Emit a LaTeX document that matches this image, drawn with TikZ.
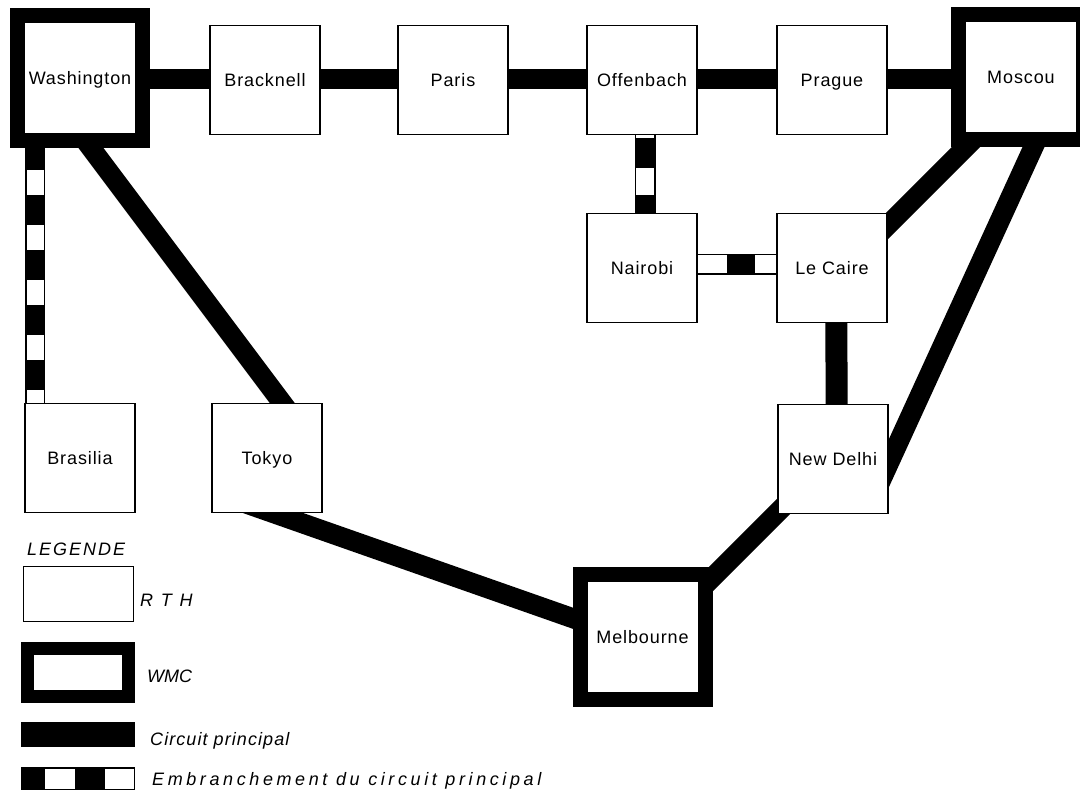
\documentclass[tikz,border=0pt]{standalone}
\usepackage{fontspec}
\setmainfont{Liberation Sans}
\newfontfamily\boxfont[LetterSpace=5]{Liberation Sans}
\newfontfamily\legfont{Liberation Sans}
\usetikzlibrary{calc,backgrounds}
\tikzset{
  rth/.style={draw, line width=1.5pt, fill=white, minimum width=110pt, minimum height=109pt, inner sep=0pt,
    text height=13pt, text depth=0pt, font=\boxfont\fontsize{18}{20}\selectfont},
  wmc/.style={draw, line width=15pt, fill=white, minimum width=125pt, minimum height=125pt, inner sep=0pt,
    text height=13pt, text depth=0pt, font=\boxfont\fontsize{18}{20}\selectfont},
  trunk/.style={line width=20pt},
  brout/.style={line width=#1},
  brin/.style={line width=#1, white},
  legtext/.style={anchor=base west, inner sep=0pt, font=\legfont\itshape\fontsize{18}{20}\selectfont\addfontfeature{LetterSpace=#1}}
}
\begin{document}
\begin{tikzpicture}[x=1pt,y=-1pt]
\clip (0,0) rectangle (1080,793);
% stations
\node[wmc] (wash) at (80,78) {Washington};
\node[rth] (brack) at (265,80) {Bracknell};
\node[rth] (paris) at (453,80) {Paris};
\node[rth] (offen) at (642,80) {Offenbach};
\node[rth] (prague) at (832,80) {Prague};
\node[wmc] (moscou) at (1021,77) {Moscou};
\node[rth] (nair) at (642,268) {Nairobi};
\node[rth] (caire) at (832,268) {Le Caire};
\node[rth] (bras) at (80,458) {Brasilia};
\node[rth] (tokyo) at (267,458) {Tokyo};
\node[rth] (delhi) at (833,459) {New Delhi};
\node[wmc] (melb) at (642.5,636.5) {Melbourne};
% connectors
\begin{pgfonlayer}{background}
\draw[trunk] ([yshift=1pt]wash.center |- brack.center) -- ([yshift=1pt]brack.center);
\draw[trunk] ([yshift=1pt]brack.center) -- ([yshift=1pt]paris.center);
\draw[trunk] ([yshift=1pt]paris.center) -- ([yshift=1pt]offen.center);
\draw[trunk] ([yshift=1pt]offen.center) -- ([yshift=1pt]prague.center);
\draw[trunk] ([yshift=1pt]prague.center) -- ([yshift=1pt]moscou.center |- prague.center);
\draw[trunk] ($(wash)+(-25,22)$) -- ($(tokyo)+(43,-18)$);
\draw[trunk] ($(tokyo)+(-27,43.4)$) -- ($(melb)+(-2.5,5.3)$);
\draw[trunk] ($(melb)+(17.5,-6.5)$) -- ($(delhi)+(-3,1)$);
\draw[trunk] ($(moscou)+(-8,23)$) -- ($(caire)+(18,-5)$);
\draw[trunk] ($(moscou)+(27.6,37)$) -- ($(delhi)+(40.4,38)$);
\draw[line width=22pt] ([xshift=4pt]caire.center) -- ([xshift=4pt]delhi.center);
% branches
\coordinate (wb1) at ($(wash.south west)+(25,0)$);
\coordinate (wb2) at (wb1 |- bras.north);
\draw[brout=20pt] (wb1) -- (wb2);
\draw[brin=17pt] (wb1) -- (wb2);
\draw[line width=20pt, dash pattern=on 30pt off 25pt, dash phase=8pt] (wb1) -- (wb2);
\coordinate (ob1) at ($(offen.south)+(3,0)$);
\coordinate (ob2) at (ob1 |- nair.north);
\draw[brout=21pt] (ob1) -- (ob2);
\draw[brin=18pt] (ob1) -- (ob2);
\draw[line width=21pt, dash pattern=on 30pt off 27pt, dash phase=54pt] (ob1) -- (ob2);
\coordinate (nc1) at ($(nair.east)+(0,-4)$);
\coordinate (nc2) at (nc1 -| caire.west);
\draw[brout=21pt] (nc1) -- (nc2);
\draw[brin=18pt] (nc1) -- (nc2);
\draw[line width=21pt, dash pattern=on 28pt off 100pt, dash phase=99pt] (nc1) -- (nc2);
\end{pgfonlayer}
% legend
\node[legtext=11] (legtitle) at (27,555) {LEGENDE};
\node[draw, line width=1.5pt, minimum width=110pt, minimum height=55pt, inner sep=0pt] (lrth) at (78.5,594) {};
\node[legtext=44] (lrthtxt) at (140,606) {RTH};
\node[draw, line width=13pt, minimum width=101pt, minimum height=48pt, inner sep=0pt] (lwmc) at (78,672.5) {};
\node[legtext=0] (lwmctxt) at (147,682) {WMC};
\node[fill, minimum width=114pt, minimum height=25pt, inner sep=0pt] (lcirc) at (78,734.5) {};
\node[legtext=6] (lcirctxt) at (150,745) {Circuit principal};
\node[draw, line width=1.5pt, minimum width=112.5pt, minimum height=21.5pt, inner sep=0pt] (lemb) at (78,778.5) {};
\fill (21,767) rectangle (45,790);
\fill (75,767) rectangle (105,790);
\node[legtext=20] (lembtxt) at (152,785) {Embranchement du circuit principal};
\end{tikzpicture}
\end{document}
